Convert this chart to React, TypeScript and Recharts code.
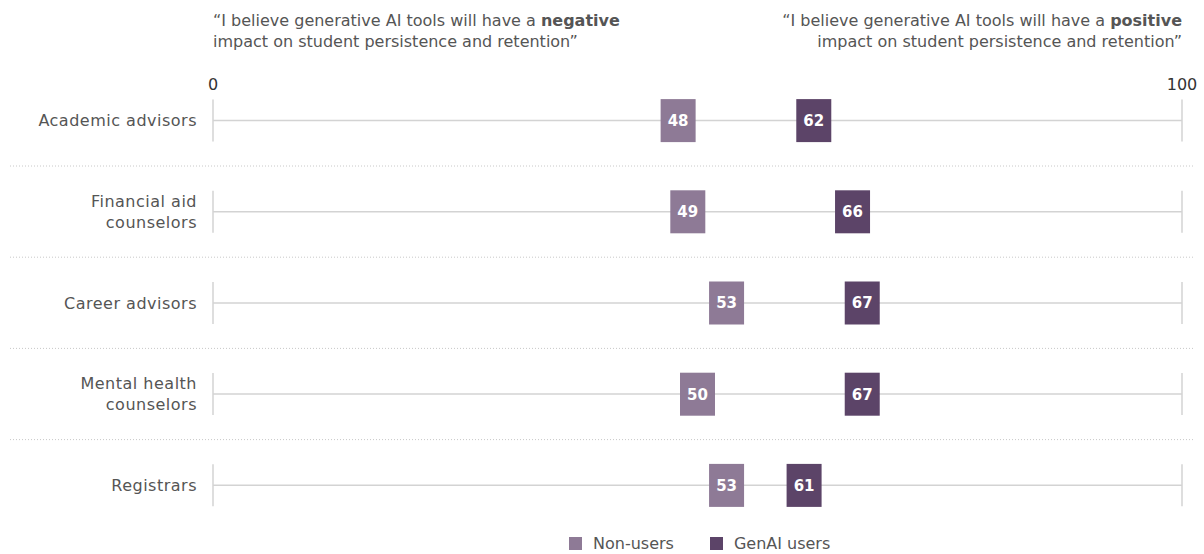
import React from "react";
import { ComposedChart, Bar, Scatter, XAxis, YAxis, Legend } from "recharts";

const categories = [
  "Academic advisors",
  "Financial aid counselors",
  "Career advisors",
  "Mental health counselors",
  "Registrars",
];
const nonUsers = [48, 49, 53, 50, 53];
const genAIUsers = [62, 66, 67, 67, 61];
const axisTicks = [0, 100];
const scaleMax = 100;

const categoryLines: Record<string, string[]> = {
  "Academic advisors": ["Academic advisors"],
  "Financial aid counselors": ["Financial aid", "counselors"],
  "Career advisors": ["Career advisors"],
  "Mental health counselors": ["Mental health", "counselors"],
  Registrars: ["Registrars"],
};

const data = categories.map((name, i) => ({
  name,
  track: scaleMax,
  nonUsers: nonUsers[i],
  genAI: genAIUsers[i],
}));

const LIGHT = "#8e7a96";
const DARK = "#5c4468";
const FONT = "'DejaVu Sans', sans-serif";
const TEXT = "#555555";
const FS = 16;

const W = 1204;
const H = 554;

const TrackShape = (props: any) => {
  const { x, y, width, height, index } = props;
  const cy = y + height / 2;
  const capH = 21;
  const last = index === categories.length - 1;
  return (
    <g>
      <line x1={x} x2={x + width} y1={cy} y2={cy} stroke="#d3d3d3" strokeWidth={1.5} />
      <line x1={x} x2={x} y1={cy - capH} y2={cy + capH} stroke="#d3d3d3" strokeWidth={1.5} />
      <line x1={x + width} x2={x + width} y1={cy - capH} y2={cy + capH} stroke="#d3d3d3" strokeWidth={1.5} />
      {!last && (
        <line x1={10} x2={1195} y1={y + height} y2={y + height} stroke="#c8c8c8" strokeWidth={1} strokeDasharray="1 2" />
      )}
    </g>
  );
};

const makeMarker = (fill: string, key: string) => (props: any) => {
  const { cx, cy, payload } = props;
  if (cx == null || cy == null) return null;
  const w = 35;
  const h = 43;
  return (
    <g>
      <rect x={cx - w / 2} y={cy - h / 2} width={w} height={h} fill={fill} />
      <text
        x={cx}
        y={cy}
        dy="0.36em"
        textAnchor="middle"
        fill="#ffffff"
        fontFamily={FONT}
        fontWeight={700}
        fontSize={15}
      >
        {payload[key]}
      </text>
    </g>
  );
};

const YTick = (props: any) => {
  const { y, payload } = props;
  const lines = categoryLines[payload.value] || [payload.value];
  const lh = 21;
  const start = -((lines.length - 1) * lh) / 2;
  return (
    <text
      x={197}
      y={y}
      textAnchor="end"
      fill={TEXT}
      fontFamily={FONT}
      fontSize={FS}
      letterSpacing={0.5}
    >
      {lines.map((l, i) => (
        <tspan key={i} x={197} dy={i === 0 ? start + 5.5 : lh}>
          {l}
        </tspan>
      ))}
    </text>
  );
};

const XTick = (props: any) => {
  const { x, payload } = props;
  return (
    <text x={x} y={90} textAnchor="middle" fill="#333333" fontFamily={FONT} fontSize={FS}>
      {payload.value}
    </text>
  );
};

const LegendContent = () => (
  <div
    style={{
      display: "flex",
      justifyContent: "flex-start",
      alignItems: "center",
      gap: 36,
      fontFamily: FONT,
      fontSize: FS,
      color: TEXT,
      paddingLeft: 569,
    }}
  >
    {[
      { label: "Non-users", color: LIGHT },
      { label: "GenAI users", color: DARK },
    ].map((it) => (
      <div key={it.label} style={{ display: "flex", alignItems: "center", gap: 11 }}>
        <span style={{ width: 13, height: 13, background: it.color, display: "inline-block" }} />
        <span>{it.label}</span>
      </div>
    ))}
  </div>
);

export default function App() {
  const headerStyle: React.CSSProperties = {
    position: "absolute",
    top: 10,
    fontFamily: FONT,
    fontSize: FS,
    lineHeight: "21px",
    color: TEXT,
    whiteSpace: "nowrap",
  };
  return (
    <div style={{ position: "absolute", left: 0, top: 0, width: W, height: H, background: "#fff" }}>
      <div style={{ ...headerStyle, left: 213 }}>
        “I believe generative AI tools will have a <b>negative</b>
        <br />
        impact on student persistence and retention”
      </div>
      <div style={{ ...headerStyle, right: W - 1182, textAlign: "right" }}>
        “I believe generative AI tools will have a <b>positive</b>
        <br />
        impact on student persistence and retention”
      </div>
      <ComposedChart
        width={W}
        height={H}
        data={data}
        layout="vertical"
        margin={{ top: 74, right: 22, bottom: 4, left: 0 }}
        barCategoryGap={0}
      >
        <XAxis
          type="number"
          domain={[0, scaleMax]}
          ticks={axisTicks}
          orientation="top"
          axisLine={false}
          tickLine={false}
          tick={<XTick />}
          height={1}
        />
        <YAxis
          type="category"
          dataKey="name"
          width={213}
          axisLine={false}
          tickLine={false}
          tick={<YTick />}
          interval={0}
        />
        <Bar dataKey="track" shape={<TrackShape />} isAnimationActive={false} legendType="none" />
        <Scatter
          name="Non-users"
          dataKey="nonUsers"
          fill={LIGHT}
          shape={makeMarker(LIGHT, "nonUsers")}
          isAnimationActive={false}
        />
        <Scatter
          name="GenAI users"
          dataKey="genAI"
          fill={DARK}
          shape={makeMarker(DARK, "genAI")}
          isAnimationActive={false}
        />
        <Legend
          content={<LegendContent />}
          wrapperStyle={{ position: "absolute", top: 534, left: 0, width: W, bottom: "auto" }}
        />
      </ComposedChart>
    </div>
  );
}
